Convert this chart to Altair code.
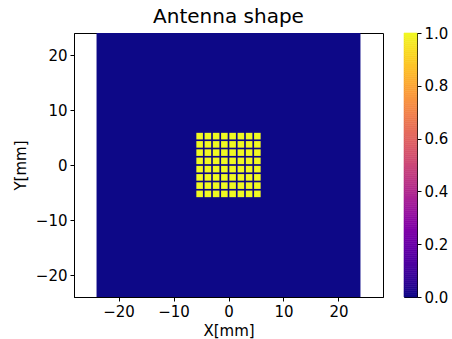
import altair as alt
import pandas as pd

# Data
patch_centers = [-5.25, -3.75, -2.25, -0.75, 0.75, 2.25, 3.75, 5.25]
patch_half = 0.6
board_extent = [-24, 24]
board_value = 0.0
patch_value = 1.0
colorbar_ticks = [0.0, 0.2, 0.4, 0.6, 0.8, 1.0]
n_levels = 128

rows = [{"x": board_extent[0], "x2": board_extent[1], "y": board_extent[0], "y2": board_extent[1], "value": board_value}]
for cx in patch_centers:
    for cy in patch_centers:
        rows.append({"x": cx - patch_half, "x2": cx + patch_half,
                     "y": cy - patch_half, "y2": cy + patch_half, "value": patch_value})
df = pd.DataFrame(rows)

cb = pd.DataFrame({
    "lo": [i / n_levels for i in range(n_levels)],
    "hi": [(i + 1) / n_levels for i in range(n_levels)],
    "v": [(i + 0.5) / n_levels for i in range(n_levels)],
})

font = "DejaVu Sans"
ticks = [-20, -10, 0, 10, 20]
cscale = alt.Scale(scheme="plasma", domain=[0, 1])

main = alt.Chart(df).mark_rect(strokeWidth=0).encode(
    x=alt.X("x:Q", scale=alt.Scale(domain=[-28.1, 28.1], nice=False, zero=False),
            axis=alt.Axis(values=ticks, title="X[mm]", grid=False)),
    x2="x2:Q",
    y=alt.Y("y:Q", scale=alt.Scale(domain=[-24, 24], nice=False, zero=False),
            axis=alt.Axis(values=ticks, title="Y[mm]", grid=False)),
    y2="y2:Q",
    color=alt.Color("value:Q", scale=cscale, legend=None),
).properties(
    width=309, height=264,
    title=alt.TitleParams("Antenna shape", fontSize=20, font=font, fontWeight="normal",
                          color="black", offset=6, anchor="middle"),
)

bar = alt.Chart(cb).mark_rect(strokeWidth=0.6).encode(
    y=alt.Y("lo:Q", scale=alt.Scale(domain=[0, 1], nice=False, zero=False),
            axis=alt.Axis(orient="right", values=colorbar_ticks, format=".1f", title=None,
                          grid=False, tickSize=4)),
    y2="hi:Q",
    color=alt.Color("v:Q", scale=cscale, legend=None),
    stroke=alt.Stroke("v:Q", scale=cscale, legend=None),
).properties(width=13, height=264)

chart = alt.hconcat(main, bar, spacing=19).resolve_scale(color="shared").properties(
    padding={"left": 12, "top": 6, "right": 0, "bottom": 0},
    background="white",
).configure_view(
    stroke="black", strokeWidth=1
).configure_axis(
    labelFont=font, titleFont=font, labelFontSize=15, titleFontSize=15,
    labelColor="black", titleColor="black", titleFontWeight="normal",
    domainColor="black", tickColor="black", tickSize=4, labelPadding=3,
).configure_axisX(titlePadding=4).configure_axisY(titlePadding=7).configure_concat(spacing=19)

chart.save("out.html", embed_options={"renderer": "svg", "actions": False})
